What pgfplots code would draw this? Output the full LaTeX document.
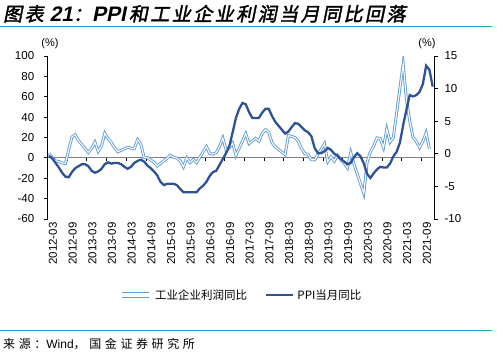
\documentclass[border=0pt]{standalone}
\usepackage{pgfplots}
\pgfplotsset{compat=1.18}
\usepackage{fontspec}
\setmainfont{Liberation Sans}
\newfontfamily\cjk{Noto Sans CJK SC}
\newfontfamily\cjkfoot[LetterSpace=30]{Noto Sans CJK SC}
\newfontfamily\cjktitle[FakeSlant=0.2,FakeBold=2,LetterSpace=13]{Noto Sans CJK SC}
\newfontfamily\lattitle[FakeSlant=0.2]{Liberation Sans Bold}
\definecolor{lineblue}{RGB}{30,160,205}
\definecolor{profitblue}{RGB}{95,155,215}
\definecolor{ppiblue}{RGB}{45,82,150}
\pgfplotsset{
  common/.style={scale only axis, width=386.3pt, height=163pt, at={(47.7pt,-219pt)}, anchor=south west,
    xmin=-0.4, xmax=117.4, /pgf/number format/assume math mode=true,
    ticklabel style={font=\fontsize{11.5}{13}\selectfont}},
}
\begin{document}
\begin{tikzpicture}[x=1pt,y=1pt]
\useasboundingbox (0,0) rectangle (498,-357);
\node[anchor=base west, inner sep=0] at (3,-21) {\fontsize{19}{21}\selectfont{\cjktitle 图表}\hspace{6pt}{\fontsize{21}{22}\selectfont\lattitle 21}{\cjktitle ：}{\fontsize{21}{22}\selectfont\lattitle PPI}\hspace{3pt}{\cjktitle 和工业企业利润当月同比回落}};
\draw[lineblue, line width=1pt] (0,-26) -- (492,-26);
\draw[lineblue, line width=1pt] (0,-330) -- (492,-330);
\node[anchor=base west, inner sep=0] at (3,-348) {\fontsize{12}{13}\selectfont{\cjkfoot 来源：}Wind{\cjkfoot ，国金证券研究所}};
\node[inner sep=0] at (50,-44) {\fontsize{11}{12}\selectfont (\%)};
\node[inner sep=0] at (427,-44) {\fontsize{11}{12}\selectfont (\%)};

% zero line with tick marks
\begin{axis}[common, ymin=-60, ymax=100, hide y axis,
  axis x line=middle, x axis line style={draw=gray, line width=0.9pt, -},
  xtick={5.5,11.5,...,113.5}, xticklabels={}, xtick align=outside,
  major tick length=3pt, x tick style={black, line width=0.5pt}]
\end{axis}

% left axis: profits (with legend)
\begin{axis}[common, ymin=-60, ymax=100, ytick={-60,-40,...,100},
  axis y line*=left, axis x line*=bottom,
  x axis line style={draw=none}, x tick style={draw=none},
  y axis line style={black, line width=0.8pt, -},
  ytick align=outside, major tick length=4pt, y tick style={black, line width=0.8pt},
  yticklabel style={xshift=-6pt},
  xtick={0,6,...,114},
  xticklabels={2012-03,2012-09,2013-03,2013-09,2014-03,2014-09,2015-03,2015-09,2016-03,2016-09,2017-03,2017-09,2018-03,2018-09,2019-03,2019-09,2020-03,2020-09,2021-03,2021-09},
  xticklabel style={rotate=90, anchor=east, yshift=-4pt},
  legend columns=2,
  legend style={at={(0.5,-0.466)}, anchor=center, draw=none, fill=none,
    font=\cjk\fontsize{11.5}{12}\selectfont, column sep=1pt,
    /tikz/every even column/.append style={column sep=16pt}}]
\addplot[draw=profitblue, double=white, double distance=1.1pt, line width=0.9pt, no markers,
  legend image code/.code={\draw[draw=profitblue, line width=2.9pt] (0pt,0pt) -- (27pt,0pt); \draw[white, line width=1.1pt] (0pt,0pt) -- (27pt,0pt);}] coordinates {
(0,4.5)(1,0)(2,-3)(3,-3.5)(4,-5)(5,-5.5)(6,7.8)(7,20.5)(8,22.8)(9,17.1)
(12,5.3)(13,9.3)(14,15.5)(15,6.3)(16,11.6)(17,24.2)(18,19)(19,15)(20,10)(21,6)
(24,10.4)(25,9.6)(26,8.9)(27,17.9)(28,13.5)(29,0.4)(30,0.4)(31,-2.1)(32,-4.2)(33,-8)
(36,-0.4)(37,2.6)(38,0.6)(39,-0.3)(40,-2.9)(41,-8.8)(42,-0.1)(43,-4.6)(44,-1.4)(45,-4.7)
(48,11.1)(49,4.2)(50,3.7)(51,5.1)(52,11)(53,19.5)(54,7.7)(55,9.8)(56,14.5)(57,2.3)
(60,23.8)(61,14)(62,16.7)(63,19.1)(64,16.5)(65,24)(66,27.7)(67,25.1)(68,14.9)(69,10.8)
(72,3.1)(73,21.9)(74,21.1)(75,20)(76,16.2)(77,9.2)(78,4.1)(79,3.6)(80,-1.8)(81,-1.9)
(84,13.9)(85,-3.7)(86,1.1)(87,-3.1)(88,2.6)(89,-2)(90,-5.3)(91,-9.9)(92,5.4)(93,-6.3)
(96,-34.9)(97,-4.3)(98,6)(99,11.5)(100,19.6)(101,19.1)(102,10.1)(103,28.2)(104,15.5)(105,20.1)
(108,92.3)(109,57)(110,36.4)(111,20)(112,16.4)(113,10.1)(114,16.3)(115,24.6)(116,9)
};
\addlegendentry{工业企业利润同比}
\addlegendimage{legend image code/.code={\draw[ppiblue, line width=2.3pt] (0pt,0pt) -- (27pt,0pt);}}
\addlegendentry{PPI当月同比}
\end{axis}

% right axis: PPI
\begin{axis}[common, ymin=-10, ymax=15, ytick={-10,-5,...,15},
  axis y line*=right, hide x axis,
  y axis line style={black, line width=0.8pt, -},
  ytick align=outside, major tick length=4pt, y tick style={black, line width=0.8pt},
  yticklabel style={xshift=3pt}]
\addplot[ppiblue, line width=2.3pt, no markers] coordinates {
(0,-0.3)(1,-0.7)(2,-1.4)(3,-2.1)(4,-2.9)(5,-3.5)(6,-3.6)(7,-2.8)(8,-2.2)(9,-1.9)
(10,-1.6)(11,-1.6)(12,-1.9)(13,-2.6)(14,-2.9)(15,-2.7)(16,-2.3)(17,-1.6)(18,-1.3)(19,-1.5)(20,-1.4)(21,-1.4)
(22,-1.6)(23,-2.0)(24,-2.3)(25,-2.0)(26,-1.4)(27,-1.1)(28,-0.9)(29,-1.2)(30,-1.8)(31,-2.2)(32,-2.7)(33,-3.3)
(34,-4.3)(35,-4.8)(36,-4.6)(37,-4.6)(38,-4.6)(39,-4.8)(40,-5.4)(41,-5.9)(42,-5.9)(43,-5.9)(44,-5.9)(45,-5.9)
(46,-5.3)(47,-4.9)(48,-4.3)(49,-3.4)(50,-2.8)(51,-2.6)(52,-1.7)(53,-0.8)(54,0.1)(55,1.2)(56,3.3)(57,5.5)
(58,6.9)(59,7.8)(60,7.6)(61,6.4)(62,5.5)(63,5.5)(64,5.5)(65,6.3)(66,6.9)(67,6.9)(68,5.8)(69,4.9)
(70,4.3)(71,3.7)(72,3.1)(73,3.4)(74,4.1)(75,4.7)(76,4.6)(77,4.1)(78,3.6)(79,3.3)(80,2.7)(81,0.9)
(82,0.1)(83,0.1)(84,0.4)(85,0.9)(86,0.6)(87,0.0)(88,-0.3)(89,-0.8)(90,-1.2)(91,-1.6)(92,-1.4)(93,-0.5)
(94,0.1)(95,-0.4)(96,-1.5)(97,-3.1)(98,-3.7)(99,-3.0)(100,-2.4)(101,-2.0)(102,-2.1)(103,-2.1)(104,-1.5)(105,-0.4)
(106,0.3)(107,1.7)(108,4.4)(109,6.8)(110,9.0)(111,8.8)(112,9.0)(113,9.5)(114,10.7)(115,13.5)(116,12.9)(117,10.3)
};
\end{axis}
\end{tikzpicture}
\end{document}
